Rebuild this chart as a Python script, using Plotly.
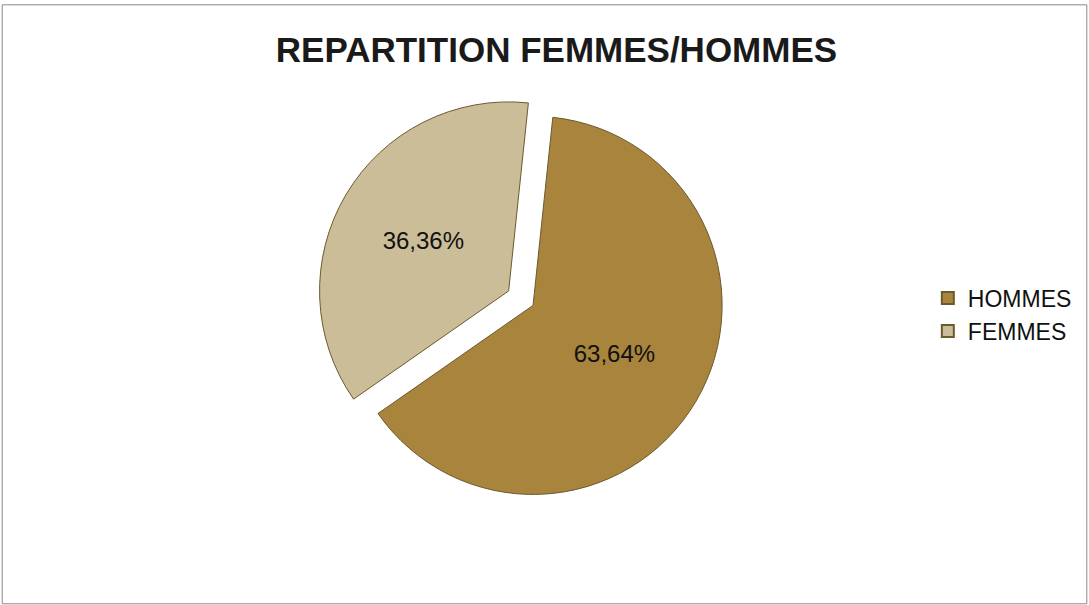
import plotly.graph_objects as go

labels = ["HOMMES", "FEMMES"]
values = [63.64, 36.36]
colors = ["#a8843c", "#cbbd98"]
title_text = "REPARTITION FEMMES/HOMMES"

fig = go.Figure(go.Pie(
    labels=labels,
    values=values,
    sort=False,
    direction="clockwise",
    rotation=6,
    pull=[0.03, 0.12],
    marker=dict(colors=colors, line=dict(color="#6b5a30", width=1)),
    texttemplate="%{percent:.2%}",
    textposition="inside",
    insidetextfont=dict(family="Liberation Sans, Arial", size=24, color="#111111"),
    hoverinfo="label+percent",
    domain=dict(x=[0.2, 0.77], y=[0.15, 0.85]),
))

fig.update_layout(
    width=1089, height=605,
    separators=", ",
    paper_bgcolor="white",
    plot_bgcolor="white",
    margin=dict(l=0, r=0, t=0, b=0),
    title=dict(text="<b>" + title_text + "</b>", x=0.511, xanchor="center", y=0.917, yanchor="middle",
               font=dict(family="Liberation Sans, Arial", size=35, color="#1a1a1a")),
    legend=dict(x=0.852, y=0.48, xanchor="left", yanchor="middle",
                bgcolor="rgba(0,0,0,0)",
                font=dict(family="Liberation Sans, Arial", size=23, color="#111111"),
                itemsizing="constant"),
    shapes=[dict(type="rect", xref="paper", yref="paper", x0=0.002, y0=0.002, x1=0.998, y1=0.992,
                 line=dict(color="#888888", width=1))],
)

fig.write_html("out.html",
               config={"displayModeBar": False},
               post_script="document.body.style.margin='0';document.body.style.overflow='hidden';")
